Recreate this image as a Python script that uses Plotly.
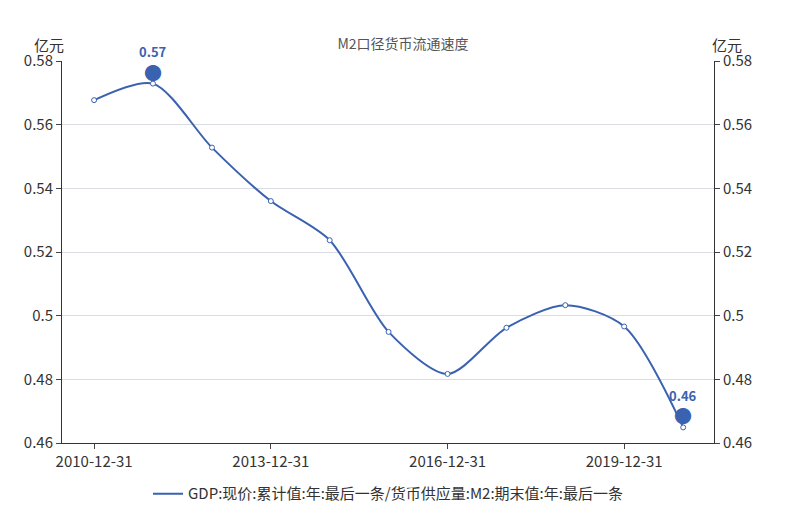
import plotly.graph_objects as go

dates = ["2010-12-31","2011-12-31","2012-12-31","2013-12-31","2014-12-31","2015-12-31",
         "2016-12-31","2017-12-31","2018-12-31","2019-12-31","2020-12-31"]
values = [0.5677,0.5729,0.5528,0.5360,0.5237,0.4949,0.4817,0.4962,0.5033,0.4966,0.4649]
tick_labels = ["2010-12-31","2013-12-31","2016-12-31","2019-12-31"]
series_name = "GDP:现价:累计值:年:最后一条/货币供应量:M2:期末值:年:最后一条"
color = "#3a62b0"
font = "Noto Sans CJK SC"

imax = values.index(max(values)); imin = values.index(min(values))

fig = go.Figure()
fig.add_trace(go.Scatter(x=dates, y=values, mode="lines+markers", showlegend=False,
    line=dict(color=color, width=2, shape="spline", smoothing=0.8),
    marker=dict(size=5, color="white", line=dict(color=color, width=1))))
fig.add_trace(go.Scatter(x=[None], y=[None], mode="lines", name=series_name,
    line=dict(color=color, width=2)))
fig.add_trace(go.Scatter(x=dates, y=values, yaxis="y2", mode="lines", showlegend=False,
    line=dict(width=0), hoverinfo="skip"))
for i in (imax, imin):
    fig.add_annotation(x=dates[i], y=values[i], text="●", showarrow=False, yshift=12,
        font=dict(color=color, size=18))
    fig.add_annotation(x=dates[i], y=values[i], text=f"<b>{values[i]:.2f}</b>", showarrow=False,
        yshift=32, font=dict(color=color, size=13))

axis_common = dict(range=[0.46, 0.58], dtick=0.02, tickfont=dict(size=15, color="#333"),
    showline=True, linecolor="#333", ticks="outside", ticklen=5, zeroline=False)
fig.update_layout(
    width=790, height=517, plot_bgcolor="white", paper_bgcolor="white",
    font=dict(family=font, color="#333"),
    title=dict(text="M2口径货币流通速度", x=0.5, y=0.94, font=dict(size=14, color="#555")),
    margin=dict(l=54, r=84, t=53, b=82),
    xaxis=dict(type="date", range=["2010-06-15", "2021-07-10"], tickvals=tick_labels,
        ticktext=tick_labels, tickfont=dict(size=15, color="#333"), showline=True,
        linecolor="#333", ticks="outside", ticklen=5, showgrid=False),
    yaxis=dict(**axis_common, showgrid=True, gridcolor="#d9dde3", tickformat=".2~f"),
    yaxis2=dict(**axis_common, overlaying="y", side="right", showgrid=False, tickformat=".2~f"),
    legend=dict(orientation="h", x=0.5, xanchor="center", y=-0.09, font=dict(size=15)),
    showlegend=True,
)
fig.add_annotation(xref="paper", yref="paper", x=-0.02, y=1.01, text="亿元", showarrow=False,
    xanchor="center", yanchor="bottom", font=dict(size=15))
fig.add_annotation(xref="paper", yref="paper", x=1.02, y=1.01, text="亿元", showarrow=False,
    xanchor="center", yanchor="bottom", font=dict(size=15))
fig.write_html("out.html")
